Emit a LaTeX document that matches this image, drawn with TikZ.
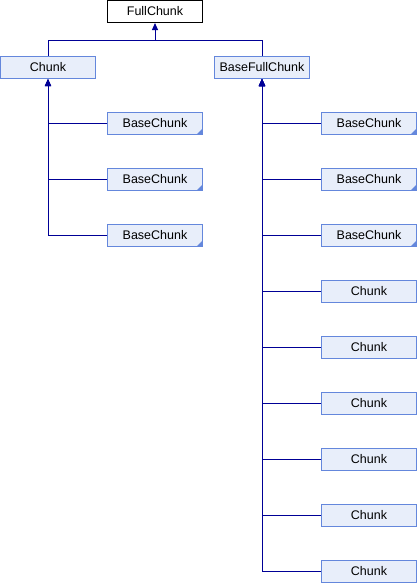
\documentclass[tikz,border=0pt]{standalone}
\usepackage{fontspec}
\setmainfont{Liberation Sans}
\usetikzlibrary{arrows.meta}
\definecolor{edgeblue}{RGB}{0,0,150}
\definecolor{boxfill}{RGB}{232,238,250}
\definecolor{boxline}{RGB}{100,135,220}
\begin{document}
\begin{tikzpicture}[x=1pt,y=-1pt,
  cls/.style={rectangle,draw=boxline,fill=boxfill,line width=1pt,minimum width=95pt,minimum height=22pt,inner sep=0pt,font=\fontsize{12.5}{15}\selectfont},
  topcls/.style={cls,draw=black,fill=white},
  trunc/.style={cls,path picture={\fill[boxline] (path picture bounding box.south east) -- ++(-6pt,0) -- ++(6pt,6pt) -- cycle;}},
  edge/.style={draw=edgeblue,line width=1pt},
  inh/.style={edge,-{Triangle[width=6pt,length=7pt]}}]
\useasboundingbox (0,0) rectangle (418,584);
\node[topcls] (full) at (155,11.5) {FullChunk};
\node[cls] (chunk) at (48,67.5) {Chunk};
\node[cls] (bfc) at (262,67.5) {BaseFullChunk};
\node[trunc] (l1) at (155,123.5) {BaseChunk};
\node[trunc] (l2) at (155,179.5) {BaseChunk};
\node[trunc] (l3) at (155,235.5) {BaseChunk};
\node[trunc] (r1) at (369,123.5) {BaseChunk};
\node[trunc] (r2) at (369,179.5) {BaseChunk};
\node[trunc] (r3) at (369,235.5) {BaseChunk};
\node[cls] (r4) at (369,291.5) {Chunk};
\node[cls] (r5) at (369,347.5) {Chunk};
\node[cls] (r6) at (369,403.5) {Chunk};
\node[cls] (r7) at (369,459.5) {Chunk};
\node[cls] (r8) at (369,515.5) {Chunk};
\node[cls] (r9) at (369,571.5) {Chunk};
\coordinate (j) at (155,40);
\draw[edge] (chunk.north) |- (j);
\draw[edge] (bfc.north) |- (j);
\draw[inh] (j) -- (full.south);
\foreach \n in {l1,l2,l3} {\draw[inh] (\n.west) -| (chunk.south);}
\foreach \n in {r1,r2,r3,r4,r5,r6,r7,r8,r9} {\draw[inh] (\n.west) -| (bfc.south);}
\end{tikzpicture}
\end{document}
